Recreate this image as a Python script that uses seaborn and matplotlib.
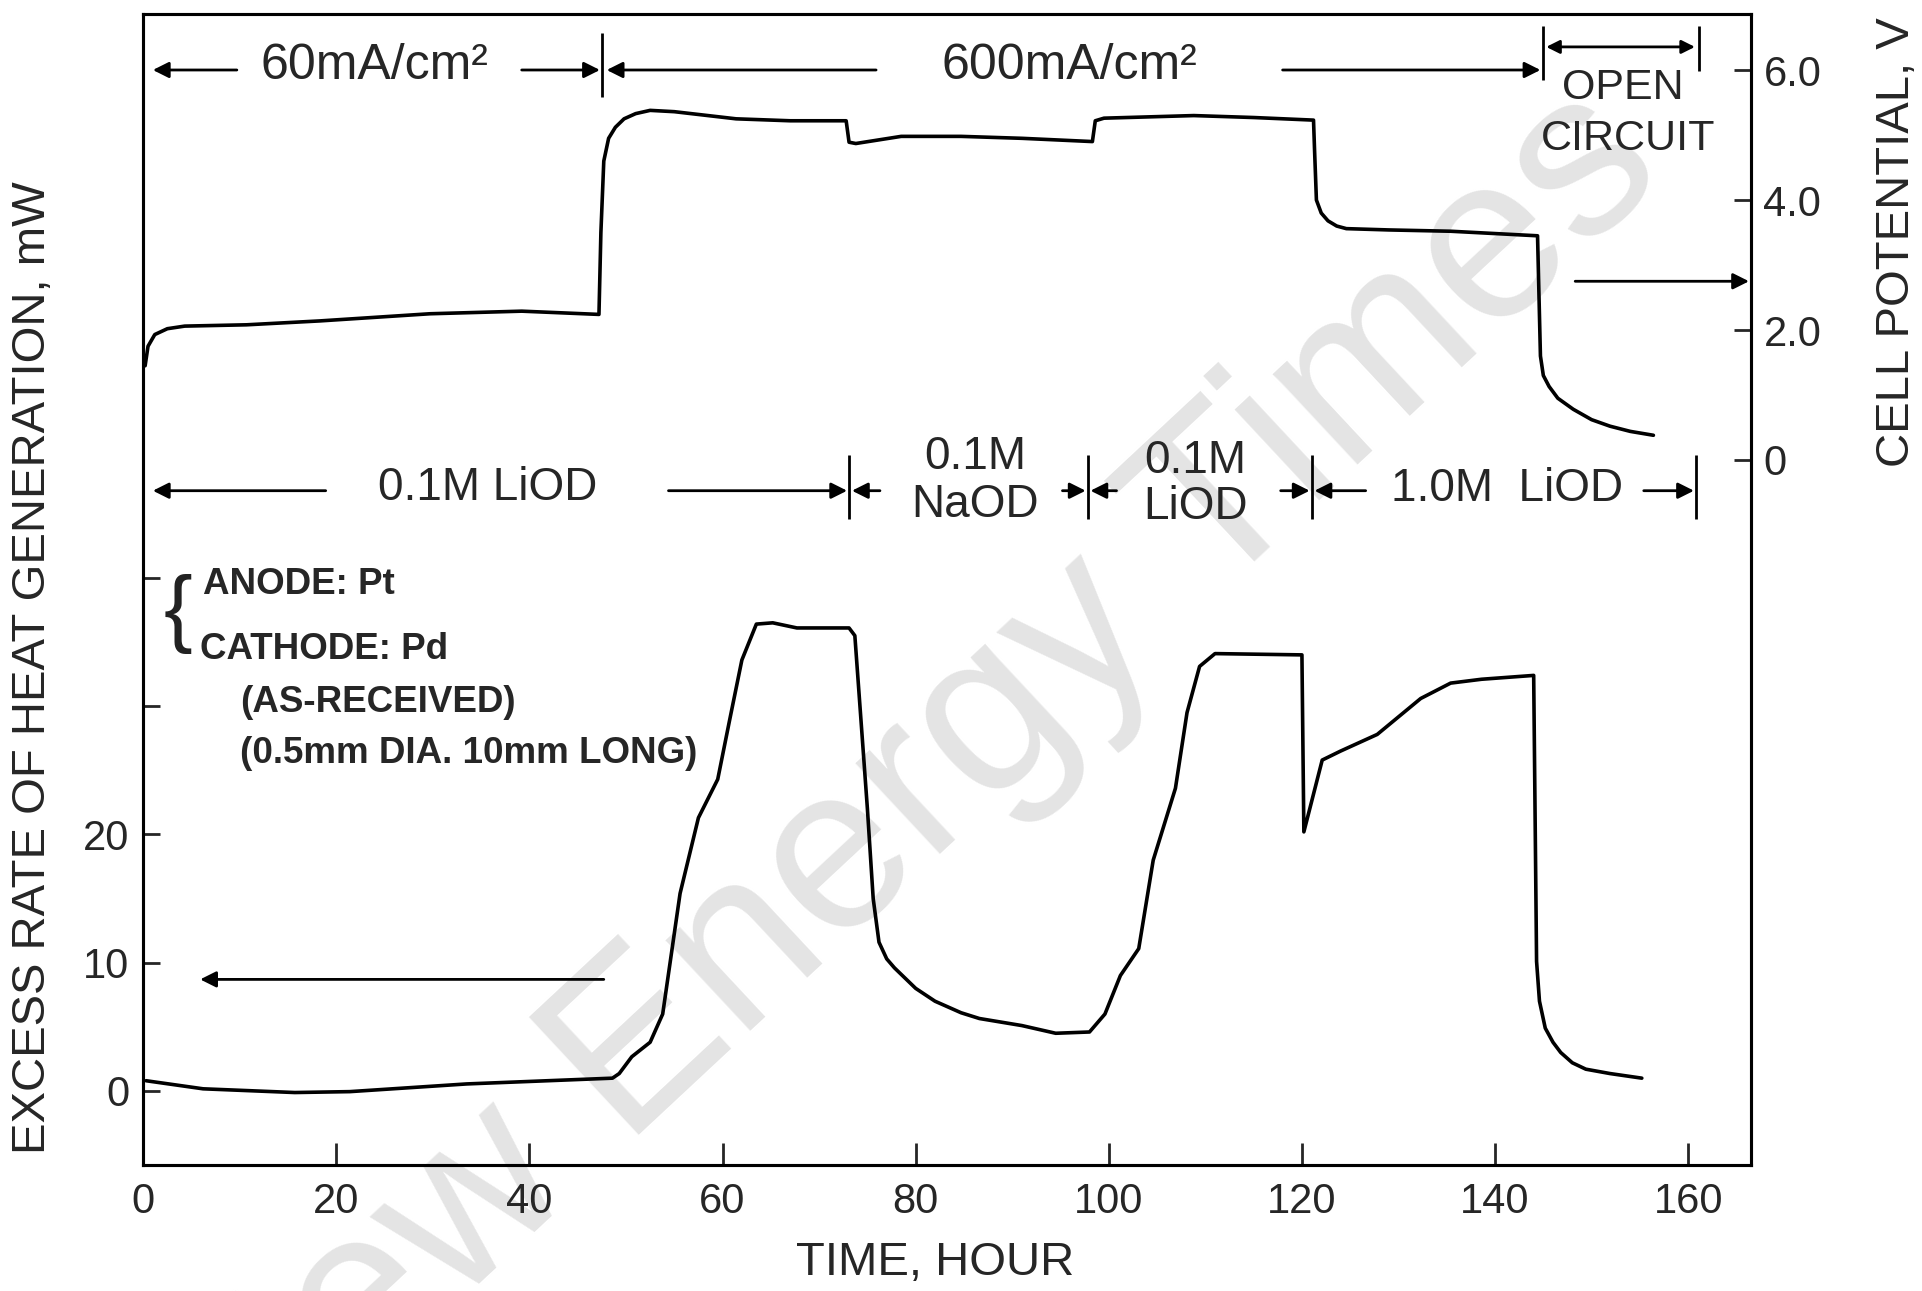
import numpy as np
import pandas as pd
import matplotlib
matplotlib.use("Agg")
import matplotlib.pyplot as plt
import seaborn as sns

# ==========================================
# Datos
# ==========================================

# Potencial de celda (eje derecho, V)
horas_pot = [0.2, 0.5, 1.2, 2.5, 4.3, 10.7, 18.3, 29.7, 39.2, 47.2, 47.4, 47.7,
             48.2, 48.9, 49.8, 51.0, 52.5, 55.0, 61.4, 67.0, 72.8, 73.1, 73.8,
             78.5, 84.7, 91.0, 98.3, 98.6, 99.5, 108.8, 115.0, 121.2, 121.3,
             121.5, 122.0, 122.7, 123.6, 124.6, 129.0, 135.4, 144.4, 144.7,
             145.0, 145.6, 146.5, 148.1, 150.0, 151.9, 154.0, 156.4]
potencial = [1.45, 1.75, 1.93, 2.02, 2.06, 2.08, 2.14, 2.25, 2.29, 2.24, 3.5, 4.6,
             4.95, 5.12, 5.25, 5.33, 5.38, 5.36, 5.25, 5.22, 5.22, 4.89, 4.87,
             4.98, 4.98, 4.95, 4.9, 5.22, 5.26, 5.30, 5.27, 5.23, 4.8,
             4.0, 3.8, 3.68, 3.6, 3.56, 3.54, 3.52, 3.45, 1.6,
             1.3, 1.13, 0.95, 0.78, 0.62, 0.52, 0.44, 0.38]

# Exceso de calor (eje izquierdo, mW)
horas_calor = [0.3, 6.2, 15.7, 21.4, 33.5, 48.6, 49.3, 50.6, 52.5, 53.8, 55.6,
               57.5, 59.5, 60.7, 62.0, 63.5, 65.2, 67.7, 73.1, 73.7, 75.0, 75.6,
               76.2, 77.0, 77.8, 80.0, 82.0, 84.7, 86.6, 91.0, 94.5, 98.0, 99.6,
               101.2, 103.1, 104.6, 106.9, 108.1, 109.4, 111.0, 120.0, 120.2,
               122.1, 124.0, 127.8, 132.3, 135.4, 138.6, 144.0, 144.3, 144.6,
               145.2, 146.0, 146.8, 148.0, 149.4, 151.9, 155.2]
calor = [0.8, 0.17, -0.12, -0.05, 0.55, 1.0, 1.36, 2.67, 3.8, 6.0, 15.4,
         21.3, 24.3, 28.8, 33.6, 36.4, 36.5, 36.1, 36.1, 35.5, 22.0, 15.0,
         11.6, 10.3, 9.6, 8.0, 7.0, 6.1, 5.65, 5.1, 4.5, 4.6, 6.0,
         9.0, 11.1, 18.0, 23.6, 29.5, 33.1, 34.1, 34.0, 20.2,
         25.8, 26.5, 27.8, 30.6, 31.8, 32.1, 32.4, 10.1, 7.0,
         4.9, 3.8, 3.0, 2.2, 1.7, 1.36, 1.0]

# Etapas del experimento
cortes_corriente = [47.5, 145.0, 161.1]
cortes_electrolito = [73.1, 97.8, 121.0, 160.8]

ticks_x = [0, 20, 40, 60, 80, 100, 120, 140, 160]
ticks_calor = [0, 10, 20, 30, 40]
etiquetas_calor = ["0", "10", "20", "", ""]
ticks_pot = [0, 2, 4, 6]
etiquetas_pot = ["0", "2.0", "4.0", "6.0"]

df_pot = pd.DataFrame({"Hora": horas_pot, "Potencial": potencial})
df_calor = pd.DataFrame({"Hora": horas_calor, "Calor": calor})

# ==========================================
# Estilo
# ==========================================
sns.set_theme(style="ticks")
plt.rcParams["font.family"] = ["Liberation Sans", "DejaVu Sans"]

fig = plt.figure(figsize=(19.22, 12.91), dpi=100)
fig.patch.set_facecolor("white")

# marca de agua
fig.text(0.474, 0.382, "New Energy Times", rotation=43, fontsize=168,
         color="#e4e4e4", ha="center", va="center", zorder=-1)

ax = fig.add_axes([0.0745, 0.0976, 0.8365, 0.8919])
ax.set_facecolor("none")
ax2 = ax.twinx()
ax2.set_facecolor("none")

lw = 2.6
sns.lineplot(data=df_calor, x="Hora", y="Calor", ax=ax, color="black",
             lw=lw, sort=False, estimator=None)
sns.lineplot(data=df_pot, x="Hora", y="Potencial", ax=ax2, color="black",
             lw=lw, sort=False, estimator=None)

ax.set_xlim(0, 166.5)
ax.set_ylim(-5.77, 84.0)
ax2.set_ylim(-10.85, 6.87)

ax.set_xticks(ticks_x)
ax.set_yticks(ticks_calor)
ax.set_yticklabels(etiquetas_calor)
ax2.set_yticks(ticks_pot)
ax2.set_yticklabels(etiquetas_pot)

ax.tick_params(axis="x", direction="in", length=16, width=2, labelsize=30, pad=12)
ax.tick_params(axis="y", direction="in", length=12, width=2, labelsize=30, pad=10)
ax2.tick_params(axis="y", direction="in", length=12, width=2, labelsize=30, pad=9)

for a in (ax, ax2):
    for s in a.spines.values():
        s.set_visible(True)
        s.set_linewidth(2.2)
        s.set_color("black")
    a.set_xlabel("")
    a.set_ylabel("")

fig.text(0.0172, 0.4826, "EXCESS RATE OF HEAT GENERATION, mW", rotation=90,
         ha="center", va="center", fontsize=34)
fig.text(0.987, 0.8125, "CELL POTENTIAL, V", rotation=90,
         ha="center", va="center", fontsize=34)
fig.text(0.4865, 0.0217, "TIME, HOUR", ha="center", va="center", fontsize=34)

# ==========================================
# Anotaciones (coordenadas del eje izquierdo)
# ==========================================
flecha = dict(arrowstyle="-|>", lw=2, color="black", mutation_scale=24,
              shrinkA=0, shrinkB=0)


def flechita(x0, x1, y):
    ax.annotate("", xy=(x1, y), xytext=(x0, y), arrowprops=flecha)


txt = dict(ha="center", va="center", fontsize=33)

# densidad de corriente
y1 = 79.6
ax.vlines(cortes_corriente[0], 77.5, 82.5, color="black", lw=2)
ax.vlines(cortes_corriente[1], 78.8, 83.0, color="black", lw=2)
ax.vlines(cortes_corriente[2], 79.5, 83.0, color="black", lw=2)
flechita(9.7, 1.0, y1)
ax.text(24, y1 + 0.3, "60mA/cm²", ha="center", va="center", fontsize=36)
flechita(39.2, 47.3, y1)
flechita(75.9, 48.0, y1)
ax.text(95.9, y1 + 0.3, "600mA/cm²", ha="center", va="center", fontsize=36)
flechita(118, 144.7, y1)
ax.annotate("", xy=(145.3, 81.4), xytext=(160.7, 81.4),
            arrowprops=dict(arrowstyle="<|-|>", lw=2, color="black",
                            mutation_scale=20, shrinkA=0, shrinkB=0))
ax.text(153.2, 78.2, "OPEN", ha="center", va="center", fontsize=31)
ax.text(153.8, 74.2, "CIRCUIT", ha="center", va="center", fontsize=31)

# electrolito
y2 = 46.8
for c in cortes_electrolito:
    ax.vlines(c, 44.6, 49.6, color="black", lw=2)
flechita(18.9, 1.0, y2)
ax.text(35.7, y2 + 0.2, "0.1M LiOD", **txt)
flechita(54.4, 72.9, y2)
flechita(76.3, 73.4, y2)
ax.text(86.2, 49.4, "0.1M", **txt)
ax.text(86.2, 45.7, "NaOD", **txt)
flechita(95.2, 97.6, y2)
flechita(100.8, 98.1, y2)
ax.text(109.0, 49.1, "0.1M", **txt)
ax.text(109.0, 45.5, "LiOD", **txt)
flechita(117.8, 120.8, y2)
flechita(126.6, 121.3, y2)
ax.text(141.2, y2 + 0.1, "1.0M  LiOD", **txt)
flechita(155.4, 160.6, y2)

# electrodos
ax.text(3.6, 37.2, "{", ha="center", va="center", fontsize=62,
        fontweight="ultralight", color="#222222")
bold = dict(ha="left", va="center", fontsize=26.5, fontweight="bold")
ax.text(6.2, 39.5, "ANODE: Pt", **bold)
ax.text(5.9, 34.4, "CATHODE: Pd", **bold)
ax.text(10.0, 30.3, "(AS-RECEIVED)", **bold)
ax.text(10.0, 26.3, "(0.5mm DIA. 10mm LONG)", **bold)

# flechas hacia los ejes
flechita(47.7, 5.9, 8.7)
ax2.annotate("", xy=(166.3, 2.75), xytext=(148.3, 2.75), arrowprops=flecha)

plt.savefig("out.png", dpi=100, facecolor="white")
